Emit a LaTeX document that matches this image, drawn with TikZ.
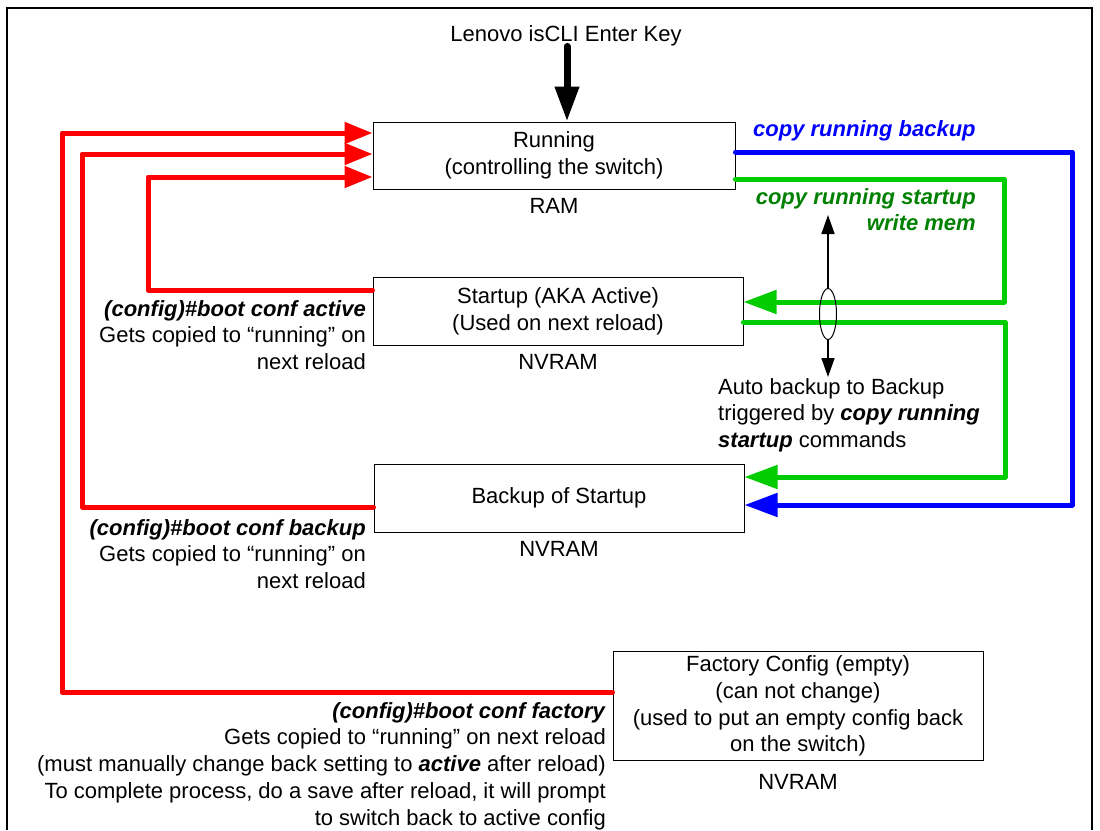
\documentclass[tikz,border=0pt]{standalone}
\usepackage{fontspec}
\setmainfont{Liberation Sans}
\usetikzlibrary{shapes.geometric, arrows.meta, positioning}

\definecolor{cfgred}{RGB}{255,0,0}
\definecolor{cfgblue}{RGB}{0,0,255}
\definecolor{cfggreen}{RGB}{0,204,0}
\definecolor{cmdgreen}{RGB}{0,128,0}
\newcommand{\cmd}[1]{\textbf{\textit{#1}}}
\newcommand{\diagfont}{\fontsize{22pt}{26.75pt}\selectfont}

\begin{document}
\begin{tikzpicture}[
  x=1pt, y=-1pt,
  font=\diagfont,
  box/.style={rectangle, draw, line width=1pt, inner sep=0pt, align=center, minimum width=370pt, minimum height=68pt},
  note/.style={inner sep=0pt},
  redarrow/.style={cfgred, line width=5pt, line join=round, line cap=round, -{Triangle[length=28pt, width=21pt]}},
  bluearrow/.style={cfgblue, line width=5pt, line join=round, line cap=round, -{Triangle[length=33pt, width=23pt]}},
  greenarrow/.style={cfggreen, line width=5pt, line join=round, line cap=round, -{Triangle[length=33pt, width=23pt]}},
  keyarrow/.style={line width=7pt, line cap=round, -{Triangle[length=35pt, width=23pt]}},
  thinarrow/.style={line width=1.5pt, -{Triangle[length=19pt, width=13pt]}}
]
  \useasboundingbox (0,0) rectangle (1100,830);
  \draw[line width=1.5pt] (7,830) -- (7,8) -- (1092,8) -- (1092,830);

  % Config stores
  \node[box, minimum width=362pt, minimum height=67pt] (run) at (554,155.5) {Running\\(controlling the switch)};
  \node[box] (startup) at (558,311) {Startup (AKA Active)\\(Used on next reload)};
  \node[box] (backup) at (559,498) {Backup of Startup};
  \node[box, minimum height=109pt] (factory) at (798,706) {Factory Config (empty)\\(can not change)\\(used to put an empty config back\\on the switch)};
  \node[note, below=9pt of run] (ram) {RAM};
  \node[note, below=9pt of startup] (nvram1) {NVRAM};
  \node[note, below=9pt of backup] (nvram2) {NVRAM};
  \node[note, below=13pt of factory] (nvram3) {NVRAM};

  % Enter key
  \node[note] (title) at (566,36) {Lenovo isCLI Enter Key};
  \draw[keyarrow] ([xshift=1pt]title.south) -- ([xshift=13pt]run.north);

  % boot conf paths back to running
  \coordinate (redA) at (62,133);
  \coordinate (redB) at (82,154);
  \coordinate (redC) at (148,177);
  \draw[redarrow] ([yshift=14pt]factory.west) -| (redA) -- ([yshift=22.5pt]run.west);
  \draw[redarrow] ([yshift=-9pt]backup.west) -| (redB) -- ([yshift=1.5pt]run.west);
  \draw[redarrow] ([yshift=21pt]startup.west) -| (redC) -- ([yshift=-21.5pt]run.west);

  \node[note, align=right, anchor=north east] (activenote) at (366,300) {\cmd{(config)\#boot conf active}\\Gets copied to “running” on\\next reload};
  \node[note, align=right, anchor=north east] (backupnote) at (366,519) {\cmd{(config)\#boot conf backup}\\Gets copied to “running” on\\next reload};
  \node[note, align=right, anchor=north east] (factorynote) at (606,702) {\cmd{(config)\#boot conf factory}\\Gets copied to “running” on next reload\\(must manually change back setting to \cmd{active} after reload)\\To complete process, do a save after reload, it will prompt\\to switch back to active config};

  % copy running ... paths
  \coordinate (blueA) at (1072,152);
  \coordinate (greenA) at (1004,179);
  \coordinate (greenB) at (1005,322);
  \draw[bluearrow] ([yshift=3.5pt]run.east) -| (blueA) |- ([yshift=-7pt]backup.east);
  \draw[greenarrow] ([yshift=-23.5pt]run.east) -| (greenA) |- ([yshift=9pt]startup.east);
  \draw[greenarrow] ([yshift=-11pt]startup.east) -| (greenB) |- ([yshift=21pt]backup.east);

  \node[note, anchor=west, text=cfgblue] (blucmd) at (753,131) {\cmd{copy running backup}};
  \node[note, align=right, anchor=north east, text=cmdgreen] (grncmd) at (976,188) {\cmd{copy running startup}\\\cmd{write mem}};

  % auto backup marker
  \node[draw, ellipse, line width=1pt, inner sep=0pt, minimum width=17pt, minimum height=51pt] (ring) at (828,314) {};
  \coordinate (uptip) at (828,215);
  \coordinate (downtip) at (828,377);
  \draw[thinarrow] (ring.north) -- (uptip);
  \draw[thinarrow] (ring.south) -- (downtip);
  \node[note, align=left, anchor=north west] (autonote) at (718,378) {Auto backup to Backup\\triggered by \cmd{copy running}\\\cmd{startup} commands};
\end{tikzpicture}
\end{document}
